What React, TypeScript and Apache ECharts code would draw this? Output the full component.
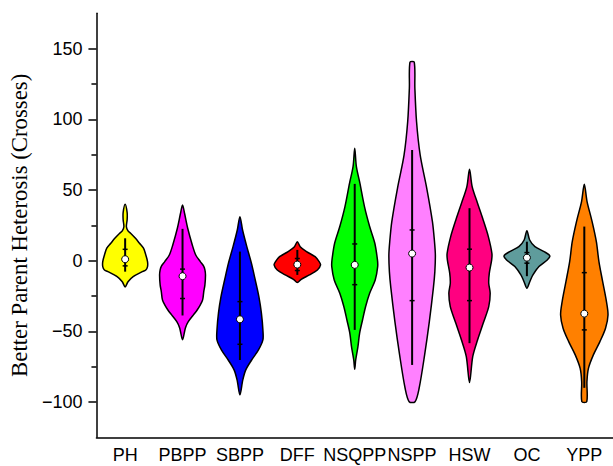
import React, { useEffect, useRef } from "react";
import * as echarts from "echarts";

const categories = ["PH", "PBPP", "SBPP", "DFF", "NSQPP", "NSPP", "HSW", "OC", "YPP"];
const colors = ["#FFFF00", "#FF00FF", "#0000FF", "#FF0000", "#00FF00", "#FF80FF", "#FF0080", "#5F9C9C", "#FF8000"];

// Violin outlines: [value, half-width as fraction of the category band]
const phProfile = [[39.9, 0], [34, 0.035], [29, 0.035], [24, 0.022], [21, 0.05], [19.4, 0.095], [15.8, 0.18], [12.3, 0.25], [8.8, 0.32], [4, 0.36], [-0.7, 0.39], [-4.2, 0.39], [-6.6, 0.36], [-8, 0.29], [-11.3, 0.14], [-14.9, 0.05], [-18.6, 0]];
const pbppProfile = [[39.4, 0], [33.5, 0.035], [22.9, 0.09], [11.1, 0.17], [4, 0.23], [-0.7, 0.31], [-4, 0.37], [-6.6, 0.39], [-10.1, 0.4], [-17.2, 0.39], [-21.9, 0.37], [-27.8, 0.35], [-31.3, 0.31], [-34.9, 0.255], [-38.4, 0.19], [-43.2, 0.1], [-47.6, 0.05], [-56, 0]];
const sbppProfile = [[31.1, 0], [21.7, 0.046], [9.9, 0.12], [-1.8, 0.2], [-13.7, 0.267], [-25.5, 0.33], [-37.2, 0.374], [-49, 0.4], [-56.1, 0.4], [-63.2, 0.323], [-70.3, 0.204], [-77.3, 0.102], [-84.4, 0.05], [-95, 0]];
const dffProfile = [[13.4, 0], [9.9, 0.05], [6.4, 0.16], [2.8, 0.31], [-0.7, 0.38], [-3, 0.405], [-6.6, 0.35], [-10.1, 0.21], [-13.2, 0.068], [-15.5, 0]];
const nsqppProfile = [[79.5, 0], [66.5, 0.029], [54.8, 0.09], [38.2, 0.17], [24.1, 0.26], [12.3, 0.35], [0.5, 0.396], [-4.2, 0.4], [-13.7, 0.357], [-23.1, 0.26], [-32.5, 0.19], [-42, 0.136], [-51.4, 0.085], [-60.9, 0.056], [-70.3, 0.017], [-76.8, 0]];
const nsppProfile = [[140.4, 0.037], [122, 0.048], [98.4, 0.077], [74.8, 0.14], [51.2, 0.255], [27.6, 0.354], [13.4, 0.39], [4, 0.405], [-7.8, 0.396], [-19.5, 0.37], [-43.2, 0.3], [-66.7, 0.218], [-90.3, 0.122], [-99.8, 0.051]];
const hswProfile = [[64.7, 0], [52.4, 0.046], [40.6, 0.14], [28.8, 0.238], [17, 0.328], [5.2, 0.39], [0.5, 0.386], [-8.9, 0.345], [-16, 0.335], [-23.1, 0.36], [-32.5, 0.335], [-44.3, 0.238], [-56.1, 0.14], [-67.9, 0.056], [-86.3, 0]];
const ocProfile = [[21.2, 0], [14.6, 0.048], [9.9, 0.14], [6.4, 0.3], [3.3, 0.4], [0.5, 0.354], [-4.2, 0.21], [-10.1, 0.105], [-14.9, 0.05], [-19.5, 0]];
const yppProfile = [[54, 0], [41.8, 0.048], [27.6, 0.136], [13.4, 0.21], [-0.7, 0.255], [-14.9, 0.32], [-29, 0.386], [-38.4, 0.413], [-47.8, 0.37], [-57.3, 0.272], [-66.7, 0.158], [-76.1, 0.073], [-85.6, 0.046], [-99.8, 0.043]];

const profiles = [phProfile, pbppProfile, sbppProfile, dffProfile, nsqppProfile, nsppProfile, hswProfile, ocProfile, yppProfile];

// Inner box statistics
const whiskerHigh = [15.8, 22.5, 6.4, 7.6, 54.3, 78.3, 37.1, 13.4, 24.1];
const q3 = [8, -6, -29, 1.5, 11.8, 21.7, 8.1, 5.7, -8.5];
const centerDot = [1, -11, -41.5, -2.8, -3, 5, -4.9, 2.1, -37.5];
const q1 = [-3.7, -26.8, -59.2, -7, -17, -28.3, -28.3, -1.8, -49];
const whiskerLow = [-7.8, -38.8, -70.3, -10.1, -49, -73.8, -58.4, -11, -90];

const majorTicks = [-100, -50, 0, 50, 100, 150];
const minorTicks = [-75, -25, 25, 75, 125];

export default function App() {
  const ref = useRef<HTMLDivElement>(null);
  useEffect(() => {
    if (!ref.current) return;
    const chart = echarts.init(ref.current, null, { renderer: "svg" });
    const renderItem = (params: any, api: any) => {
      const idx = api.value(0);
      const prof = profiles[idx];
      const band = api.size([1, 0])[0];
      const right: number[][] = [];
      const left: number[][] = [];
      prof.forEach(([v, w]) => {
        const p = api.coord([idx, v]);
        right.push([p[0] + w * band, p[1]]);
        if (w > 0) left.push([p[0] - w * band, p[1]]);
      });
      const pts = right.concat(left.reverse());
      const top = api.coord([idx, whiskerHigh[idx]]);
      const bot = api.coord([idx, whiskerLow[idx]]);
      const a = api.coord([idx, q3[idx]]);
      const b = api.coord([idx, q1[idx]]);
      const c = api.coord([idx, centerDot[idx]]);
      return {
        type: "group",
        children: [
          {
            type: "polygon",
            shape: { points: pts, smooth: 0.3 },
            style: { fill: colors[idx], stroke: "#000", lineWidth: 1.5 },
          },
          {
            type: "line",
            shape: { x1: top[0], y1: top[1], x2: bot[0], y2: bot[1] },
            style: { stroke: "#000", lineWidth: 2 },
          },
          {
            type: "line",
            shape: { x1: a[0] - 2.5, y1: a[1], x2: a[0] + 2.5, y2: a[1] },
            style: { stroke: "#000", lineWidth: 1.5 },
          },
          {
            type: "line",
            shape: { x1: b[0] - 2.5, y1: b[1], x2: b[0] + 2.5, y2: b[1] },
            style: { stroke: "#000", lineWidth: 1.5 },
          },
          {
            type: "circle",
            shape: { cx: c[0], cy: c[1], r: 3.5 },
            style: { fill: "#fff", stroke: "#000", lineWidth: 1 },
          },
        ],
      };
    };
    const fmt = (v: number) => (v < 0 ? "\u2212" + Math.abs(v) : String(v));
    chart.setOption({
      animation: false,
      backgroundColor: "#fff",
      grid: { left: 91.5, top: 13.3, width: 529.2, height: 424, containLabel: false },
      xAxis: {
        type: "category",
        data: categories,
        boundaryGap: true,
        axisLine: { onZero: false, lineStyle: { color: "#000", width: 1.5 } },
        axisTick: { alignWithLabel: true, length: 8, lineStyle: { color: "#000", width: 1.5 } },
        axisLabel: { color: "#000", fontSize: 18, fontFamily: "Liberation Sans", margin: 9, interval: 0 },
        splitLine: { show: false },
      },
      yAxis: [
        {
          type: "value",
          min: -125,
          max: 175,
          interval: 25,
          name: "Better Parent Heterosis (Crosses)",
          nameLocation: "middle",
          nameGap: 56,
          nameTextStyle: { fontFamily: "Liberation Serif", fontSize: 22.8, color: "#000" },
          axisLine: { show: true, lineStyle: { color: "#000", width: 1.5 } },
          axisTick: { show: true, length: 8, customValues: majorTicks, lineStyle: { color: "#000", width: 1.5 } },
          axisLabel: { color: "#000", fontSize: 18, fontFamily: "Liberation Sans", margin: 14, customValues: majorTicks, formatter: fmt },
          splitLine: { show: false },
        },
        {
          type: "value",
          min: -125,
          max: 175,
          interval: 25,
          position: "left",
          axisLine: { show: false },
          axisTick: { show: true, length: 5, customValues: minorTicks, lineStyle: { color: "#000", width: 1.5 } },
          axisLabel: { show: false },
          splitLine: { show: false },
        },
      ],
      series: [
        {
          type: "custom",
          renderItem,
          data: categories.map((_, i) => [i]),
          encode: { x: 0 },
          xAxisIndex: 0,
          yAxisIndex: 0,
          clip: false,
        },
      ],
    });
    return () => chart.dispose();
  }, []);
  return (
    <div
      ref={ref}
      style={{ position: "absolute", left: 0, top: 0, width: 613, height: 466 }}
    />
  );
}
